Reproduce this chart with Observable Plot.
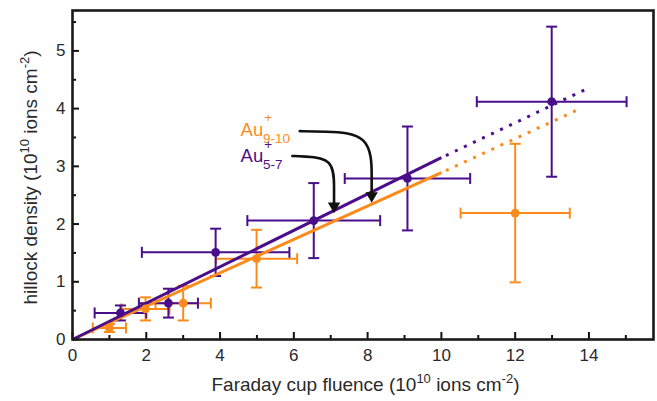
<!DOCTYPE html>
<html>
<head>
<meta charset="utf-8">
<script src="https://cdn.jsdelivr.net/npm/d3@7"></script>
<script src="https://cdn.jsdelivr.net/npm/@observablehq/plot@0.6"></script>
<style>
  html, body { margin: 0; padding: 0; background: #fff; }
  #chart { width: 657px; height: 401px; }
</style>
</head>
<body>
<div id="chart"></div>
<script>
// ---- data ----
const purpleX    = [1.30, 2.60, 3.88, 6.54, 9.08, 12.99];
const purpleY    = [0.46, 0.63, 1.51, 2.06, 2.79, 4.12];
const purpleXErr = [0.70, 0.80, 2.00, 1.80, 1.70, 2.03];
const purpleYErr = [0.13, 0.25, 0.41, 0.65, 0.90, 1.30];

const orangeX    = [1.00, 1.98, 3.00, 4.99, 12.00];
const orangeY    = [0.20, 0.53, 0.63, 1.40, 2.19];
const orangeXErr = [0.45, 0.65, 0.75, 1.10, 1.48];
const orangeYErr = [0.07, 0.20, 0.30, 0.50, 1.20];

// fitted lines: solid part, dotted extrapolation
const fitSolidX   = [0, 10];
const purpleFitY  = [0, 3.15];
const orangeFitY  = [0, 2.89];
const fitDotX     = [10, 14];
const purpleDotY  = [3.15, 4.36];
const orangeDotX  = [10, 13.8];
const orangeDotY  = [2.89, 4.01];

// annotation arrows (control points in data units)
const arrowOrangeX = [6.16, 6.75, 8.11, 8.11, 8.11];
const arrowOrangeY = [3.61, 3.60, 3.58, 2.75, 2.50];
const arrowPurpleX = [5.96, 6.22, 7.09, 7.09, 7.09];
const arrowPurpleY = [3.18, 3.17, 3.15, 2.60, 2.33];
const arrowTipX = [8.11, 7.09];
const arrowTipY = [2.37, 2.19];

// label anchors (data units)
const labelX = [4.57, 4.57];
const labelY = [3.52, 3.06];
const labelMain = ["Au", "Au"];
const labelSup = ["+", "+"];
const labelSub = ["9-10", "5-7"];

const xTicksMajor = [0, 2, 4, 6, 8, 10, 12, 14];
const xTicksMinor = [1, 3, 5, 7, 9, 11, 13, 15];
const yTicksMajor = [0, 1, 2, 3, 4, 5];
const yTicksMinor = [0.5, 1.5, 2.5, 3.5, 4.5, 5.5];

const xTitleParts = [["Faraday cup fluence (10", false], ["10", true], [" ions cm", false], ["-2", true], [")", false]];
const yTitleParts = [["hillock density (10", false], ["10", true], [" ions cm", false], ["-2", true], [")", false]];

const PURPLE = "#4b0e8a";
const ORANGE = "#fd8b1c";
const TEXT = "#2a2a2a";

const purple = purpleX.map((x, i) => ({x, y: purpleY[i], xe: purpleXErr[i], ye: purpleYErr[i]}));
const orange = orangeX.map((x, i) => ({x, y: orangeY[i], xe: orangeXErr[i], ye: orangeYErr[i]}));
const pts = (xs, ys) => xs.map((x, i) => ({x, y: ys[i]}));

const vbar = {draw(ctx, size) { const r = Math.sqrt(size / Math.PI); ctx.moveTo(0, -r); ctx.lineTo(0, r); }};
const hbar = {draw(ctx, size) { const r = Math.sqrt(size / Math.PI); ctx.moveTo(-r, 0); ctx.lineTo(r, 0); }};

function errorMarks(data, color) {
  return [
    Plot.ruleY(data, {y: "y", x1: d => d.x - d.xe, x2: d => d.x + d.xe, stroke: color, strokeWidth: 2}),
    Plot.ruleX(data, {x: "x", y1: d => d.y - d.ye, y2: d => d.y + d.ye, stroke: color, strokeWidth: 2}),
    Plot.dot(data, {x: d => d.x - d.xe, y: "y", symbol: vbar, r: 5.5, stroke: color, strokeWidth: 2, fill: "none"}),
    Plot.dot(data, {x: d => d.x + d.xe, y: "y", symbol: vbar, r: 5.5, stroke: color, strokeWidth: 2, fill: "none"}),
    Plot.dot(data, {x: "x", y: d => d.y - d.ye, symbol: hbar, r: 5.5, stroke: color, strokeWidth: 2, fill: "none"}),
    Plot.dot(data, {x: "x", y: d => d.y + d.ye, symbol: hbar, r: 5.5, stroke: color, strokeWidth: 2, fill: "none"})
  ];
}

const font = "'Liberation Sans', Arial, sans-serif";

const plot = Plot.plot({
  width: 657,
  height: 401,
  marginLeft: 72,
  marginRight: 4,
  marginTop: 10,
  marginBottom: 62,
  style: {fontFamily: font, fontSize: "17px", color: TEXT, background: "#fff"},
  x: {domain: [0, 15.75]},
  y: {domain: [0, 5.7]},
  marks: [
    ...errorMarks(orange, ORANGE),
    ...errorMarks(purple, PURPLE),
    Plot.line(pts(fitSolidX, orangeFitY), {x: "x", y: "y", stroke: ORANGE, strokeWidth: 3, strokeLinecap: "butt"}),
    Plot.line(pts(fitSolidX, purpleFitY), {x: "x", y: "y", stroke: PURPLE, strokeWidth: 3, strokeLinecap: "butt"}),
    Plot.line(pts(orangeDotX, orangeDotY), {x: "x", y: "y", stroke: ORANGE, strokeWidth: 3, strokeLinecap: "butt", strokeDasharray: "3,7", strokeDashoffset: -5}),
    Plot.line(pts(fitDotX, purpleDotY), {x: "x", y: "y", stroke: PURPLE, strokeWidth: 3, strokeLinecap: "butt", strokeDasharray: "3,7", strokeDashoffset: -5}),
    Plot.dot(orange, {x: "x", y: "y", r: 4.4, fill: ORANGE}),
    Plot.dot(purple, {x: "x", y: "y", r: 4.4, fill: PURPLE}),
    Plot.line(pts(arrowOrangeX, arrowOrangeY), {x: "x", y: "y", curve: "basis", stroke: "#111", strokeWidth: 2.6}),
    Plot.line(pts(arrowPurpleX, arrowPurpleY), {x: "x", y: "y", curve: "basis", stroke: "#111", strokeWidth: 2.6}),
    Plot.dot(pts(arrowTipX, arrowTipY), {x: "x", y: "y", symbol: "triangle", rotate: 180, r: 4.6, dy: -7, fill: "#111"}),
    // ticks (inward) and labels
    Plot.axisX({ticks: xTicksMajor, tickSize: -7, strokeWidth: 2, stroke: "#111", tickFormat: () => "", label: null}),
    Plot.axisX({ticks: xTicksMinor, tickSize: -4, strokeWidth: 2, stroke: "#111", tickFormat: () => "", label: null}),
    Plot.axisX({ticks: xTicksMajor, tickSize: 0, tickPadding: 9, tickFormat: d => String(d), label: null, fill: TEXT}),
    Plot.axisY({ticks: yTicksMajor, tickSize: -7, strokeWidth: 2, stroke: "#111", tickFormat: () => "", label: null}),
    Plot.axisY({ticks: yTicksMinor, tickSize: -4, strokeWidth: 2, stroke: "#111", tickFormat: () => "", label: null}),
    Plot.axisY({ticks: yTicksMajor, tickSize: 0, tickPadding: 7, tickFormat: d => String(d), label: null, fill: TEXT}),
    Plot.frame({stroke: "#1a1a1a", strokeWidth: 2.6})
  ]
});

document.getElementById("chart").appendChild(plot);

// text annotations with super/subscripts
const sx = plot.scale("x"), sy = plot.scale("y");
const svg = d3.select(plot);

function titleWithSups(t, parts) {
  parts.forEach(([txt, sup], i) => {
    if (sup) t.append("tspan").attr("font-size", 13).attr("dy", -8).text(txt);
    else t.append("tspan").attr("dy", i === 0 ? 0 : 8).text(txt);
  });
}

// x axis title
const xt = svg.append("text")
  .attr("x", (sx.apply(0) + sx.apply(15.75)) / 2 + 3)
  .attr("y", 391)
  .attr("text-anchor", "middle")
  .attr("font-family", font).attr("font-size", 19).attr("fill", TEXT);
titleWithSups(xt, xTitleParts);

// y axis title
const yt = svg.append("text")
  .attr("transform", `translate(37,${(sy.apply(0) + sy.apply(5.7)) / 2 + 3}) rotate(-90)`)
  .attr("text-anchor", "middle")
  .attr("font-family", font).attr("font-size", 19).attr("fill", TEXT);
titleWithSups(yt, yTitleParts);

// Au labels
const labelColors = [ORANGE, PURPLE];
labelX.forEach((lx, i) => {
  const t = svg.append("text")
    .attr("x", sx.apply(lx)).attr("y", sy.apply(labelY[i]))
    .attr("text-anchor", "start")
    .attr("font-family", font).attr("font-size", 18.5).attr("fill", labelColors[i]);
  t.append("tspan").text(labelMain[i]);
  t.append("tspan").attr("font-size", 13.5).attr("dx", 1).attr("dy", -13.5).text(labelSup[i]);
  t.append("tspan").attr("font-size", 13.5).attr("dx", -9).attr("dy", 20.3).text(labelSub[i]);
});
</script>
</body>
</html>
